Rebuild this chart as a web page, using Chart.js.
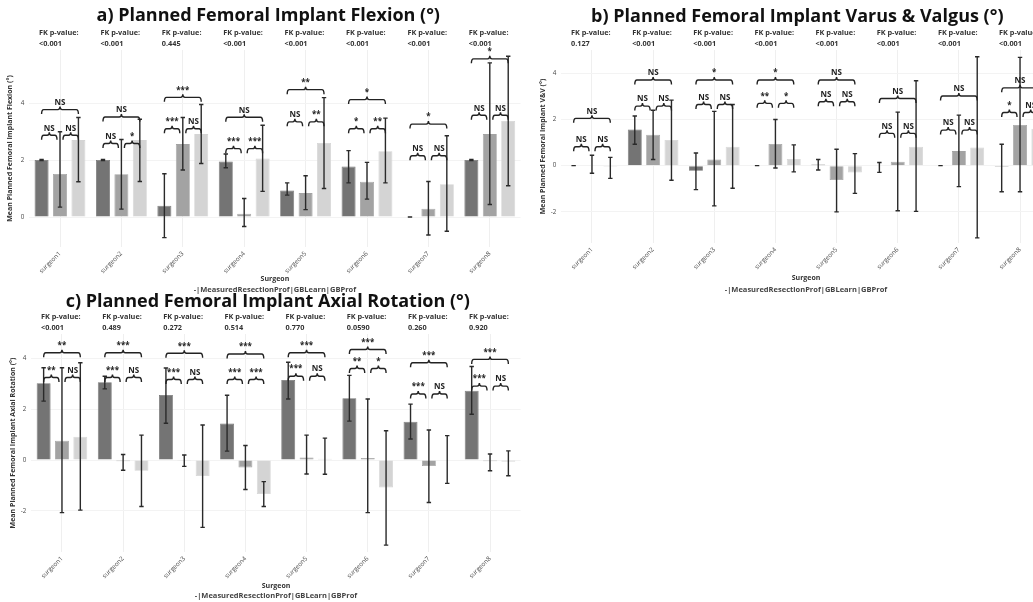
<!DOCTYPE html>
<html><head><meta charset="utf-8">
<script src="https://cdn.jsdelivr.net/npm/chart.js@4.4.0/dist/chart.umd.min.js"></script>
<style>
html,body{margin:0;padding:0;background:#fff;width:1033px;height:602px;overflow:hidden;position:relative}
canvas{position:absolute}
#ca{left:0;top:0;width:530px;height:296px}
#cb{left:530px;top:0;width:530px;height:296px}
#cc{left:0;top:286px;width:530px;height:316px}
</style></head><body>
<canvas id="ca" width="530" height="296"></canvas>
<canvas id="cb" width="530" height="296"></canvas>
<canvas id="cc" width="530" height="316"></canvas>
<script>
const surgeons = ['surgeon1','surgeon2','surgeon3','surgeon4','surgeon5','surgeon6','surgeon7','surgeon8'];
const groups = ['MeasuredResectionProf','GBLearn','GBProf'];
const groupColors = ['#747474','#a3a3a3','#d4d4d4'];
const legendText = '-|MeasuredResectionProf|GBLearn|GBProf';
const xTitle = 'Surgeon';

// ---- a) Flexion ----
const flexTicks = [0, 2, 4];
const flexMeanMRP = [2.0, 2.0, 0.4, 1.95, 0.93, 1.77, 0, 2.0];
const flexLowMRP  = [1.98, 1.98, -0.72, 1.73, 0.77, 1.2, 0, 1.98];
const flexHighMRP = [2.02, 2.02, 1.52, 2.21, 1.2, 2.33, 0, 2.02];
const flexMeanGBL = [1.51, 1.5, 2.56, 0.12, 0.84, 1.24, 0.29, 2.91];
const flexLowGBL  = [0.35, 0.28, 1.65, -0.33, 0.26, 0.63, -0.63, 0.44];
const flexHighGBL = [2.99, 2.72, 3.49, 0.65, 1.45, 1.92, 1.25, 5.41];
const flexMeanGBP = [2.7, 2.7, 2.91, 2.05, 2.6, 2.31, 1.15, 3.37];
const flexLowGBP  = [1.24, 1.25, 1.88, 0.9, 1.0, 1.2, -0.5, 1.1];
const flexHighGBP = [3.49, 3.43, 3.95, 3.22, 4.19, 3.47, 2.85, 5.64];
const flexBr12 = [2.87, 2.58, 3.1, 2.4, 3.34, 3.1, 2.15, 3.57];
const flexBr23 = [2.87, 2.58, 3.1, 2.4, 3.34, 3.1, 2.15, 3.57];
const flexBr13 = [3.77, 3.51, 4.2, 3.5, 4.47, 4.12, 3.26, 5.55];
const flexSig12 = ['NS','NS','***','***','NS','*','NS','NS'];
const flexSig23 = ['NS','*','NS','***','**','**','NS','NS'];
const flexSig13 = ['NS','NS','***','NS','**','*','*','*'];
const flexFK = ['<0.001','<0.001','0.445','<0.001','<0.001','<0.001','<0.001','<0.001'];

// ---- b) Varus & Valgus ----
const vvTicks = [-2, 0, 2, 4];
const vvMeanMRP = [0, 1.57, -0.22, 0, 0.05, 0, 0, -0.05];
const vvLowMRP  = [0, 0.93, -1.04, 0, -0.19, -0.29, 0, -1.13];
const vvHighMRP = [0, 2.15, 0.55, 0, 0.27, 0.14, 0, 0.93];
const vvMeanGBL = [0.02, 1.34, 0.27, 0.94, -0.62, 0.17, 0.63, 1.76];
const vvLowGBL  = [-0.33, 0.27, -1.74, -0.1, -2.0, -1.95, -0.91, -1.13];
const vvHighGBL = [0.45, 2.4, 2.35, 2.0, 0.71, 2.32, 2.19, 4.69];
const vvMeanGBP = [-0.05, 1.11, 0.82, 0.29, -0.3, 0.82, 0.79, 1.6];
const vvLowGBP  = [-0.55, -0.63, -0.98, -0.27, -1.2, -1.98, -3.13, 0.6];
const vvHighGBP = [0.36, 2.84, 2.65, 0.9, 0.52, 3.68, 4.72, 2.6];
const vvBr12 = [0.82, 2.58, 2.65, 2.7, 2.77, 1.4, 1.54, 2.3];
const vvBr23 = [0.82, 2.58, 2.65, 2.7, 2.77, 1.4, 1.54, 2.3];
const vvBr13 = [2.05, 3.71, 3.71, 3.71, 3.71, 2.91, 3.02, 3.37];
const vvSig12 = ['NS','NS','NS','**','NS','NS','NS','*'];
const vvSig23 = ['NS','NS','NS','*','NS','NS','NS','NS'];
const vvSig13 = ['NS','NS','*','*','NS','NS','NS','NS'];
const vvFK = ['0.127','<0.001','<0.001','<0.001','<0.001','<0.001','<0.001','<0.001'];

// ---- c) Axial Rotation ----
const rotTicks = [-2, 0, 2, 4];
const rotMeanMRP = [3.02, 3.06, 2.56, 1.44, 3.15, 2.43, 1.51, 2.73];
const rotLowMRP  = [2.32, 2.8, 1.45, 0.35, 2.4, 1.53, 0.83, 1.8];
const rotHighMRP = [3.63, 3.3, 3.62, 2.55, 3.85, 3.33, 2.2, 3.68];
const rotMeanGBL = [0.76, -0.05, -0.03, -0.29, 0.1, 0.08, -0.24, -0.05];
const rotLowGBL  = [-2.07, -0.4, -0.25, -1.16, -0.55, -2.07, -1.67, -0.42];
const rotHighGBL = [3.63, 0.22, 0.2, 0.57, 0.98, 2.4, 1.18, 0.24];
const rotMeanGBP = [0.92, -0.42, -0.63, -1.34, 0.05, -1.08, 0.02, -0.07];
const rotLowGBP  = [-1.97, -1.83, -2.65, -1.83, -0.56, -3.35, -0.92, -0.62];
const rotHighGBP = [3.83, 0.98, 1.38, -0.85, 0.86, 1.15, 0.96, 0.36];
const rotBr12 = [3.25, 3.25, 3.17, 3.17, 3.3, 3.6, 2.6, 2.91];
const rotBr23 = [3.25, 3.25, 3.17, 3.17, 3.3, 3.6, 2.6, 2.91];
const rotBr13 = [4.22, 4.22, 4.2, 4.17, 4.22, 4.35, 3.83, 3.96];
const rotSig12 = ['**','***','***','***','***','**','***','***'];
const rotSig23 = ['NS','NS','NS','***','NS','*','NS','NS'];
const rotSig13 = ['**','***','***','***','***','***','***','***'];
const rotFK = ['<0.001','0.489','0.272','0.514','0.770','0.0590','0.260','0.920'];

Chart.defaults.font.family = '"Open Sans"';

function brace(ctx, x1, x2, yy) {
  const xm = (x1 + x2) / 2, d = 4.5, u = 3, r = 2.2;
  ctx.beginPath();
  ctx.moveTo(x1, yy + d);
  ctx.quadraticCurveTo(x1, yy, x1 + r, yy);
  ctx.lineTo(xm - r, yy);
  ctx.quadraticCurveTo(xm, yy, xm, yy - u);
  ctx.quadraticCurveTo(xm, yy, xm + r, yy);
  ctx.lineTo(x2 - r, yy);
  ctx.quadraticCurveTo(x2, yy, x2, yy + d);
  ctx.stroke();
}

function makeAnnot(p) {
  return {
    id: 'annot',
    afterLayout(chart) {
      const t = chart.titleBlock;
      if (t) { t.left += p.titleShift; t.right += p.titleShift; }
    },
    afterDatasetsDraw(chart) {
      const ctx = chart.ctx, ys = chart.scales.y, xs = chart.scales.x, area = chart.chartArea;
      const m = [0, 1, 2].map(i => chart.getDatasetMeta(i));
      ctx.save();
      // error bars
      ctx.strokeStyle = '#2a2a2a'; ctx.lineWidth = 1.4;
      p.low.forEach((lowArr, i) => {
        lowArr.forEach((lo, j) => {
          const x = m[i].data[j].x;
          const yl = ys.getPixelForValue(lo), yh = ys.getPixelForValue(p.high[i][j]);
          const c = 2.2;
          ctx.beginPath();
          ctx.moveTo(x, yl); ctx.lineTo(x, yh);
          ctx.moveTo(x - c, yl); ctx.lineTo(x + c, yl);
          ctx.moveTo(x - c, yh); ctx.lineTo(x + c, yh);
          ctx.stroke();
        });
      });
      // significance brackets
      ctx.strokeStyle = '#222'; ctx.lineWidth = 1.4;
      ctx.fillStyle = '#222'; ctx.font = 'bold 8px "Open Sans"';
      ctx.textAlign = 'center'; ctx.textBaseline = 'bottom';
      surgeons.forEach((s, j) => {
        const x1 = m[0].data[j].x, x2 = m[1].data[j].x, x3 = m[2].data[j].x;
        const pairs = [
          [x1, x2 - 3, p.br12[j], p.sig12[j]],
          [x2 + 3, x3, p.br23[j], p.sig23[j]],
          [x1, x3, p.br13[j], p.sig13[j]]
        ];
        pairs.forEach(([a, b, v, lab]) => {
          const yy = ys.getPixelForValue(v);
          brace(ctx, a, b, yy);
          ctx.fillText(lab, (a + b) / 2, yy - 3);
        });
      });
      // FK p-values
      ctx.fillStyle = '#333'; ctx.font = 'bold 7.3px "Open Sans"';
      ctx.textAlign = 'left'; ctx.textBaseline = 'middle';
      p.fk.forEach((v, j) => {
        const x = xs.getPixelForValue(j) - 21;
        ctx.fillText('FK p-value:', x, area.top - 17);
        ctx.fillText(v, x, area.top - 6);
      });
      // legend line
      ctx.fillStyle = '#444'; ctx.font = 'bold 7.5px "Open Sans"'; ctx.textAlign = 'center';
      ctx.fillText(legendText, (area.left + area.right) / 2, chart.height - 6.5);
      ctx.restore();
    }
  };
}

function buildChart(id, p) {
  return new Chart(document.getElementById(id), {
    type: 'bar',
    data: {
      labels: surgeons,
      datasets: groups.map((g, i) => ({
        label: g, data: p.mean[i], backgroundColor: groupColors[i],
        borderColor: groupColors[i], borderWidth: 0.8,
        categoryPercentage: 0.9, barPercentage: 0.76
      }))
    },
    options: {
      responsive: false, animation: false, devicePixelRatio: 1,
      layout: { padding: { left: 0, right: p.padRight, top: 0, bottom: p.padBottom } },
      plugins: {
        legend: { display: false }, tooltip: { enabled: false },
        title: { display: true, text: p.title, color: '#111',
          font: { family: '"Open Sans"', size: 18, weight: 'bold' },
          padding: { top: p.titleTop, bottom: p.titleBottom } }
      },
      scales: {
        x: {
          grid: { display: true, offset: false, color: '#efefef', drawTicks: false },
          border: { display: false },
          ticks: { minRotation: 45, maxRotation: 45, autoSkip: false, padding: 3, color: '#4a4a4a', font: { size: 6.3 } },
          title: { display: true, text: xTitle, color: '#333', font: { size: 7, weight: 'bold' }, padding: { top: 0, bottom: p.xTitlePad } },
          afterFit(s) { s.height = p.xHeight; }
        },
        y: {
          min: p.min, max: p.max,
          grid: { color: '#f3f3f3', drawTicks: false },
          border: { display: false },
          ticks: { color: '#4a4a4a', font: { size: 6.3 }, padding: 5 },
          afterBuildTicks(s) { s.ticks = p.ticks.map(v => ({ value: v })); },
          title: { display: true, text: p.yTitle, color: '#333', font: { size: 7, weight: 'bold' }, padding: { top: p.yTitlePad, bottom: 0 } },
          afterFit(s) { s.width = p.yWidth; }
        }
      }
    },
    plugins: [makeAnnot(p)]
  });
}

buildChart('ca', {
  title: 'a) Planned Femoral Implant Flexion (°)',
  yTitle: 'Mean Planned Femoral Implant Flexion (°)',
  ticks: flexTicks, min: -1.05, max: 5.86,
  mean: [flexMeanMRP, flexMeanGBL, flexMeanGBP],
  low: [flexLowMRP, flexLowGBL, flexLowGBP],
  high: [flexHighMRP, flexHighGBL, flexHighGBP],
  br12: flexBr12, br23: flexBr23, br13: flexBr13,
  sig12: flexSig12, sig23: flexSig23, sig13: flexSig13, fk: flexFK,
  padRight: 9.5, padBottom: 11, titleTop: 5.2, titleBottom: 23.2,
  xHeight: 38, xTitlePad: 1.8, yWidth: 29.3, yTitlePad: 5.8, titleShift: 8
});

buildChart('cb', {
  title: 'b) Planned Femoral Implant Varus & Valgus (°)',
  yTitle: 'Mean Planned Femoral Implant V&V (°)',
  ticks: vvTicks, min: -3.35, max: 5.01,
  mean: [vvMeanMRP, vvMeanGBL, vvMeanGBP],
  low: [vvLowMRP, vvLowGBL, vvLowGBP],
  high: [vvHighMRP, vvHighGBL, vvHighGBP],
  br12: vvBr12, br23: vvBr23, br13: vvBr13,
  sig12: vvSig12, sig23: vvSig23, sig13: vvSig13, fk: vvFK,
  padRight: 9.4, padBottom: 11, titleTop: 6.2, titleBottom: 22.2,
  xHeight: 42, xTitlePad: 2.8, yWidth: 31.4, yTitlePad: 8.8, titleShift: 7
});

buildChart('cc', {
  title: 'c) Planned Femoral Implant Axial Rotation (°)',
  yTitle: 'Mean Planned Femoral Implant Axial Rotation (°)',
  ticks: rotTicks, min: -3.62, max: 4.96,
  mean: [rotMeanMRP, rotMeanGBL, rotMeanGBP],
  low: [rotLowMRP, rotLowGBL, rotLowGBP],
  high: [rotHighMRP, rotHighGBL, rotHighGBP],
  br12: rotBr12, br23: rotBr23, br13: rotBr13,
  sig12: rotSig12, sig23: rotSig23, sig13: rotSig13, fk: rotFK,
  padRight: 9.4, padBottom: 12, titleTop: 5.2, titleBottom: 21.2,
  xHeight: 38, xTitlePad: 0.3, yWidth: 31.4, yTitlePad: 8.8, titleShift: 7.5
});
</script>
</body></html>
